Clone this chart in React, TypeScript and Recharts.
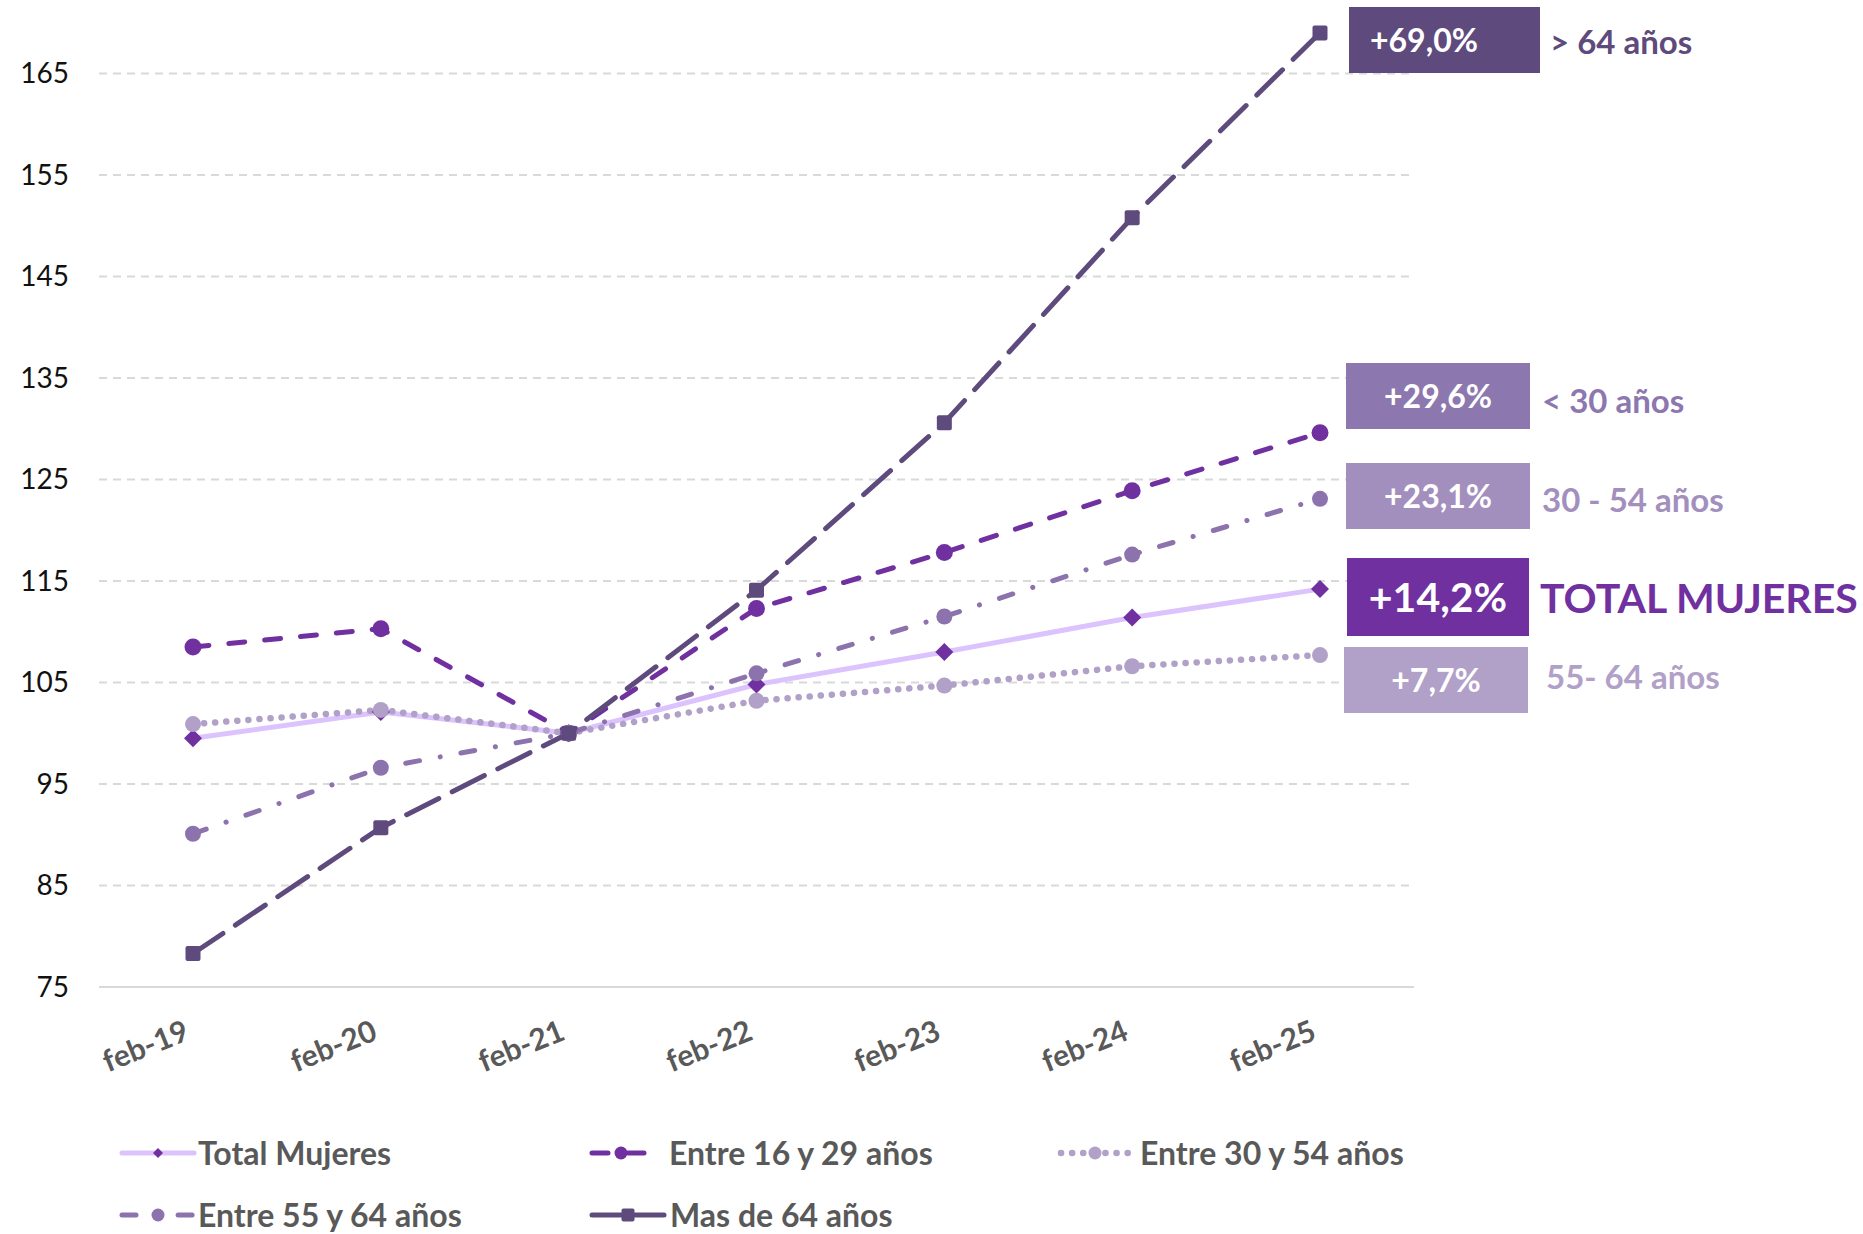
import { CartesianGrid, Line, LineChart, XAxis, YAxis } from 'recharts';

const categories = ['feb-19', 'feb-20', 'feb-21', 'feb-22', 'feb-23', 'feb-24', 'feb-25'];
const totalMujeres = [99.5, 102.1, 100, 104.8, 108.0, 111.4, 114.2];
const entre16y29 = [108.5, 110.3, 100, 112.3, 117.8, 123.9, 129.6];
const entre30y54 = [100.9, 102.3, 100, 103.2, 104.7, 106.6, 107.7];
const entre55y64 = [90.1, 96.6, 100, 105.9, 111.5, 117.6, 123.1];
const masDe64 = [78.3, 90.7, 100, 114.1, 130.6, 150.8, 169.0];

const yTicks = [75, 85, 95, 105, 115, 125, 135, 145, 155, 165];

// right-hand call-outs, top to bottom
const badgeValues = ['+69,0%', '+29,6%', '+23,1%', '+14,2%', '+7,7%'];
const badgeLabels = ['> 64 años', '< 30 años', '30 - 54 años', 'TOTAL MUJERES', '55- 64 años'];

const FONT = 'Lato, "Open Sans", sans-serif';

type Marker = 'diamond' | 'circle' | 'square';

interface SeriesDef {
  key: string;
  name: string;
  values: number[];
  stroke: string;
  markerFill: string;
  dash?: string;
  width: number;
  marker: Marker;
  size: number;
}

const series: SeriesDef[] = [
  { key: 'total', name: 'Total Mujeres', values: totalMujeres, stroke: '#DCC3FD', markerFill: '#7030A0', width: 5, marker: 'diamond', size: 9 },
  { key: 's1629', name: 'Entre 16 y 29 años', values: entre16y29, stroke: '#7030A0', markerFill: '#7030A0', dash: '16 20', width: 5, marker: 'circle', size: 8.5 },
  { key: 's3054', name: 'Entre 30 y 54 años', values: entre30y54, stroke: '#B1A0C7', markerFill: '#B1A0C7', dash: '0.1 11', width: 6.5, marker: 'circle', size: 8 },
  { key: 's5564', name: 'Entre 55 y 64 años', values: entre55y64, stroke: '#8C73AD', markerFill: '#8C73AD', dash: '14 21 0.1 21', width: 5, marker: 'circle', size: 8 },
  { key: 'mas64', name: 'Mas de 64 años', values: masDe64, stroke: '#5E4A7C', markerFill: '#5E4A7C', dash: '36 15', width: 5, marker: 'square', size: 7.5 },
];

const rows = categories.map((label, i) => {
  const row: Record<string, string | number> = { label };
  series.forEach((s) => {
    row[s.key] = s.values[i];
  });
  return row;
});

function MarkerShape({ kind, cx, cy, size, fill }: { kind: Marker; cx: number; cy: number; size: number; fill: string }) {
  if (kind === 'diamond') {
    return (
      <path
        d={`M${cx},${cy - size} L${cx + size},${cy} L${cx},${cy + size} L${cx - size},${cy} Z`}
        fill={fill}
      />
    );
  }
  if (kind === 'square') {
    return <rect x={cx - size} y={cy - size} width={size * 2} height={size * 2} rx={2} fill={fill} />;
  }
  return <circle cx={cx} cy={cy} r={size} fill={fill} />;
}

function XTick({ x, y, payload }: { x?: number; y?: number; payload?: { value: string } }) {
  return (
    <g transform={`translate(${(x ?? 0) - 2},${(y ?? 0) + 52}) rotate(-22)`}>
      <text textAnchor="end" fontFamily={FONT} fontWeight={700} fontSize={30} fill="#595959">
        {payload?.value}
      </text>
    </g>
  );
}

const badges = [
  { x: 1349, y: 7, w: 191, h: 66, fill: '#5E4A7C', textX: 1370, anchor: 'start', fs: 32, labelX: 1550, labelY: 54, labelFs: 33 },
  { x: 1346, y: 363, w: 184, h: 66, fill: '#8C77AE', textX: 1438, anchor: 'middle', fs: 32, labelX: 1542, labelY: 413, labelFs: 33 },
  { x: 1346, y: 463, w: 184, h: 66, fill: '#A38FBE', textX: 1438, anchor: 'middle', fs: 32, labelX: 1542, labelY: 512, labelFs: 33 },
  { x: 1347, y: 558, w: 182, h: 78, fill: '#7030A0', textX: 1438, anchor: 'middle', fs: 41, labelX: 1540, labelY: 613, labelFs: 41 },
  { x: 1344, y: 647, w: 184, h: 66, fill: '#B1A0C7', textX: 1436, anchor: 'middle', fs: 32, labelX: 1546, labelY: 689, labelFs: 33 },
];

const legendPos = [
  { x: 122, y: 1153, sw: 72, tx: 198 },
  { x: 592, y: 1153, sw: 58, tx: 669 },
  { x: 1061, y: 1153, sw: 68, tx: 1140 },
  { x: 122, y: 1215, sw: 72, tx: 198 },
  { x: 592, y: 1215, sw: 72, tx: 670 },
];

export default function App() {
  return (
    <div
      style={{
        position: 'absolute',
        left: 0,
        top: 0,
        width: 1863,
        height: 1234,
        overflow: 'hidden',
        background: '#fff',
      }}
    >
      <div style={{ position: 'absolute', left: 0, top: -28 }}>
        <LineChart width={1863} height={1262} data={rows} margin={{ top: 0, right: 449, bottom: 167, left: 0 }}>
          <CartesianGrid vertical={false} stroke="#D9D9D9" strokeWidth={2} strokeDasharray="8 6" />
          <XAxis
            dataKey="label"
            height={80}
            interval={0}
            padding={{ left: 94, right: 94 }}
            tickLine={false}
            tickSize={0}
            tickMargin={0}
            axisLine={{ stroke: '#D9D9D9', strokeWidth: 2 }}
            tick={<XTick />}
          />
          <YAxis
            width={99}
            domain={[75, 175]}
            ticks={yTicks}
            tickLine={false}
            tickSize={0}
            tickMargin={30}
            axisLine={false}
            tick={{ fontSize: 28, fill: '#111', fontFamily: FONT }}
          />
          {series.map((s) => (
            <Line
              key={s.key}
              dataKey={s.key}
              name={s.name}
              stroke={s.stroke}
              strokeWidth={s.width}
              strokeDasharray={s.dash}
              strokeLinecap="round"
              isAnimationActive={false}
              activeDot={false}
              dot={(p: { cx?: number; cy?: number; index?: number }) => (
                <MarkerShape
                  key={`${s.key}-${p.index}`}
                  kind={s.marker}
                  cx={p.cx ?? 0}
                  cy={p.cy ?? 0}
                  size={s.size}
                  fill={s.markerFill}
                />
              )}
            />
          ))}
        </LineChart>
      </div>

      <svg
        width={1863}
        height={1234}
        style={{ position: 'absolute', left: 0, top: 0, pointerEvents: 'none' }}
        fontFamily={FONT}
        fontWeight={700}
      >
        {badges.map((b, i) => (
          <g key={badgeValues[i]}>
            <rect x={b.x} y={b.y} width={b.w} height={b.h} fill={b.fill} />
            <text
              x={b.textX}
              y={b.y + b.h / 2}
              dy="0.36em"
              textAnchor={b.anchor as 'start' | 'middle'}
              fontSize={b.fs}
              fill="#fff"
            >
              {badgeValues[i]}
            </text>
            <text x={b.labelX} y={b.labelY} fontSize={b.labelFs} fill={b.fill}>
              {badgeLabels[i]}
            </text>
          </g>
        ))}

        {series.map((s, i) => {
          const p = legendPos[i];
          const mid = p.x + p.sw / 2;
          return (
            <g key={s.key}>
              <line
                x1={p.x}
                y1={p.y}
                x2={p.x + p.sw}
                y2={p.y}
                stroke={s.stroke}
                strokeWidth={s.width}
                strokeDasharray={s.key === 'mas64' ? undefined : s.dash}
                strokeLinecap="round"
              />
              <MarkerShape kind={s.marker} cx={mid} cy={p.y} size={s.marker === 'diamond' ? 5 : 6.5} fill={s.markerFill} />
              <text x={p.tx} y={p.y} dy="0.36em" fontSize={32} fill="#595959">
                {s.name}
              </text>
            </g>
          );
        })}
      </svg>
    </div>
  );
}
